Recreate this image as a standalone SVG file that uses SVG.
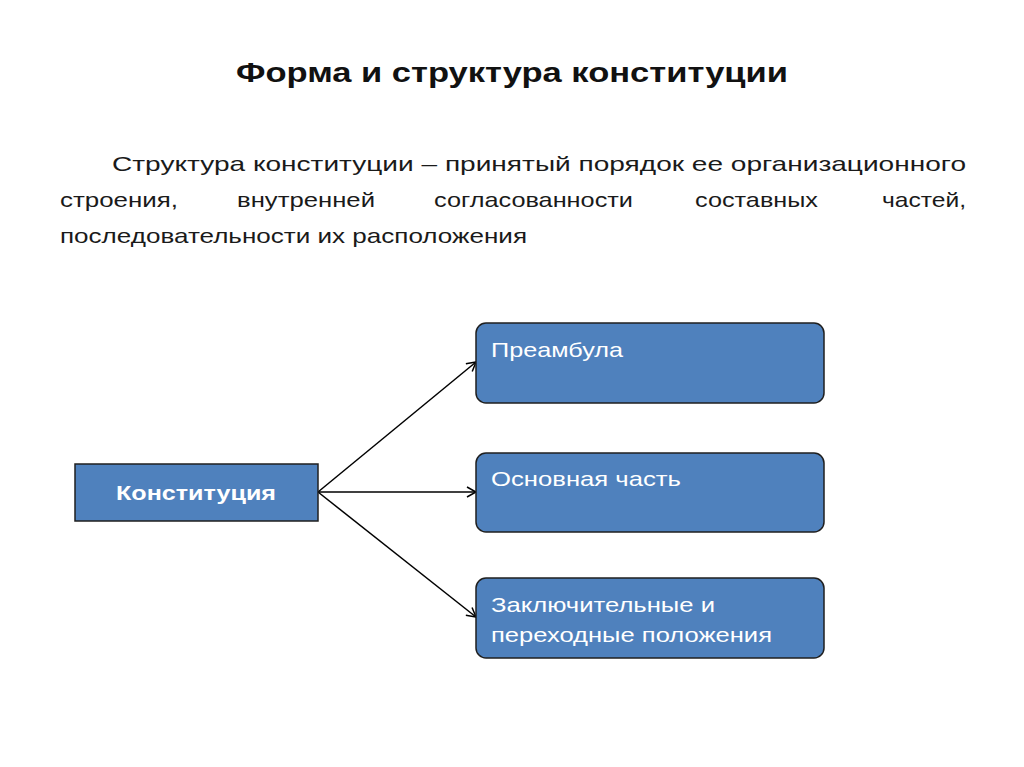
<svg xmlns="http://www.w3.org/2000/svg" width="1024" height="767" viewBox="0 0 1024 767">
<defs>
<style>
text{font-family:"Liberation Sans",Arial,sans-serif}
.body{font-size:21px;fill:#1a1a1a}
.box{fill:#4f81bd;stroke:#1f1f1f;stroke-width:1.5}
.lbl{font-size:21px;fill:#fff}
.c{stroke:#000;stroke-width:1.5;fill:none;marker-end:url(#a)}
</style>
<marker id="a" markerWidth="12" markerHeight="12" refX="10" refY="6" orient="auto" markerUnits="userSpaceOnUse"><path d="M1,1 L10,6 L1,11" fill="none" stroke="#000" stroke-width="1.5"/></marker>
</defs>
<rect width="1024" height="767" fill="#fff"/>
<text x="236" y="82" font-size="27" font-weight="bold" fill="#111" textLength="552" lengthAdjust="spacingAndGlyphs">Форма и структура конституции</text>
<text class="body" x="112" y="171" textLength="854" lengthAdjust="spacingAndGlyphs">Структура  конституции  –  принятый  порядок  ее  организационного</text>
<text class="body" y="207"><tspan x="60" textLength="118" lengthAdjust="spacingAndGlyphs">строения,</tspan><tspan x="237" textLength="138" lengthAdjust="spacingAndGlyphs">внутренней</tspan><tspan x="434" textLength="199" lengthAdjust="spacingAndGlyphs">согласованности</tspan><tspan x="695" textLength="123" lengthAdjust="spacingAndGlyphs">составных</tspan><tspan x="882" textLength="84" lengthAdjust="spacingAndGlyphs">частей,</tspan></text>
<text class="body" x="60" y="243" textLength="467" lengthAdjust="spacingAndGlyphs">последовательности их расположения</text>
<g id="connectors">
<line class="c" x1="318" y1="492" x2="476" y2="362"/>
<line class="c" x1="318" y1="492" x2="476" y2="492"/>
<line class="c" x1="318" y1="492" x2="476" y2="617"/>
</g>
<g id="n-const"><rect class="box" x="75" y="464" width="243" height="57"/><text class="lbl" x="116" y="500" font-weight="bold" textLength="160" lengthAdjust="spacingAndGlyphs">Конституция</text></g>
<g id="n-pre"><rect class="box" x="476" y="323" width="348" height="80" rx="10"/><text class="lbl" x="491" y="357" textLength="132" lengthAdjust="spacingAndGlyphs">Преамбула</text></g>
<g id="n-main"><rect class="box" x="476" y="453" width="348" height="79" rx="10"/><text class="lbl" x="491" y="486" textLength="190" lengthAdjust="spacingAndGlyphs">Основная часть</text></g>
<g id="n-fin"><rect class="box" x="476" y="578" width="348" height="80" rx="10"/><text class="lbl" x="491" y="612" textLength="224" lengthAdjust="spacingAndGlyphs">Заключительные и</text><text class="lbl" x="491" y="642" textLength="281" lengthAdjust="spacingAndGlyphs">переходные положения</text></g>
</svg>
